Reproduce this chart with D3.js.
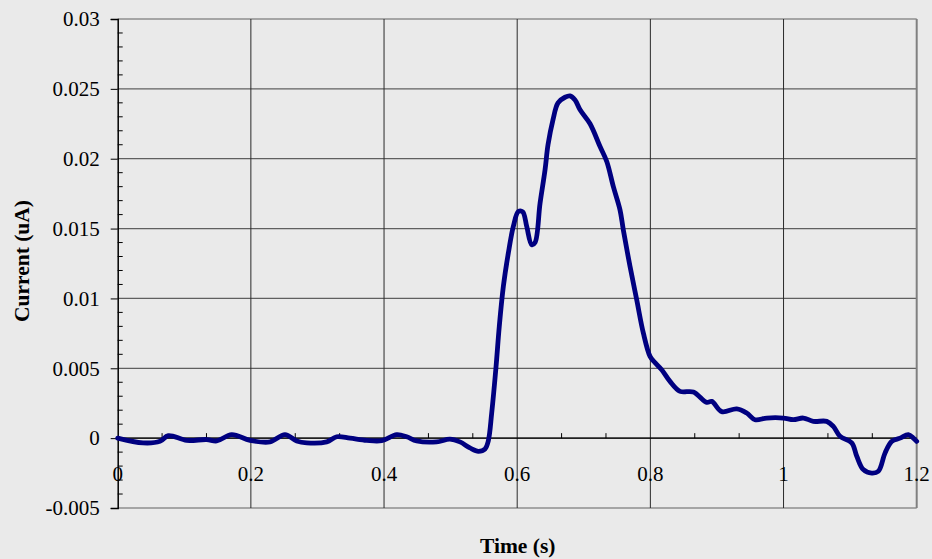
<!DOCTYPE html>
<html>
<head>
<meta charset="utf-8">
<script src="https://cdn.jsdelivr.net/npm/d3@7"></script>
<style>
  html, body { margin: 0; padding: 0; background: #EAEAEA; }
  svg { display: block; }
</style>
</head>
<body>
<svg id="chart" width="932" height="559"></svg>
<script>
// ---- data ----
const timeValues = [0.000, 0.038, 0.0635, 0.076, 0.1036, 0.1337, 0.1487, 0.1712, 0.1987, 0.2287,
  0.2512, 0.2688, 0.2839, 0.3139, 0.3289, 0.3489, 0.374, 0.3965, 0.419, 0.434,
  0.449, 0.479, 0.499, 0.514, 0.529, 0.5416, 0.5517, 0.5566, 0.5617, 0.5682,
  0.5731, 0.5792, 0.5867, 0.5942, 0.6017, 0.6083, 0.6143, 0.6218, 0.6268, 0.6343,
  0.6418, 0.6463, 0.6538, 0.6613, 0.6718, 0.6793, 0.6869, 0.6944, 0.7094, 0.7244,
  0.7345, 0.7444, 0.7544, 0.7594, 0.7694, 0.7795, 0.7894, 0.7995, 0.807, 0.817,
  0.8295, 0.8445, 0.8645, 0.8847, 0.8922, 0.9072, 0.9297, 0.9447, 0.9572, 0.9748,
  0.9997, 1.0147, 1.0298, 1.0448, 1.0649, 1.0748, 1.0849, 1.1024, 1.11, 1.1198,
  1.1325, 1.1424, 1.1525, 1.1625, 1.175, 1.1875, 1.195, 1.2];
const currentValues = [0, -0.00034, -0.00023, 0.00018, -0.00016, -0.0001, -0.0002, 0.00025, -0.00016, -0.00027,
  0.00025, -0.0002, -0.00034, -0.00027, 0.0001, 0, -0.00016, -0.00018, 0.00025, 0.0001,
  -0.0002, -0.00027, -0.00007, -0.00027, -0.0007, -0.00094, -0.00077, -0.0002, 0.0018, 0.0051,
  0.008, 0.01086, 0.01325, 0.01515, 0.01622, 0.0162, 0.01515, 0.01384, 0.014, 0.0168,
  0.0192, 0.021, 0.0228, 0.024, 0.0244, 0.0245, 0.0242, 0.0235, 0.0225, 0.02087,
  0.0198, 0.018, 0.01634, 0.0149, 0.0123, 0.0099, 0.00753, 0.00585, 0.0054, 0.0049,
  0.00406, 0.00335, 0.0033, 0.00256, 0.00263, 0.0019, 0.0021, 0.0018, 0.00132, 0.00144,
  0.00144, 0.00132, 0.00144, 0.0012, 0.0012, 0.00084, 0.00013, -0.00034, -0.0013, -0.00225,
  -0.0025, -0.00237, -0.00106, -0.00023, 0, 0.00025, 0, -0.00023];
const xTickValues = [0, 0.2, 0.4, 0.6, 0.8, 1, 1.2];
const xTickLabels = ["0", "0.2", "0.4", "0.6", "0.8", "1", "1.2"];
const yTickValues = [-0.005, 0, 0.005, 0.01, 0.015, 0.02, 0.025, 0.03];
const yTickLabels = ["-0.005", "0", "0.005", "0.01", "0.015", "0.02", "0.025", "0.03"];
const xTitle = "Time (s)";
const yTitle = "Current (uA)";

// ---- layout ----
const svg = d3.select("#chart");
const plotLeft = 117.7, plotRight = 916.7, plotTop = 19, plotBottom = 508;
const x = d3.scaleLinear().domain([0, 1.2]).range([plotLeft, plotRight]);
const y = d3.scaleLinear().domain([-0.005, 0.03]).range([plotBottom, plotTop]);
const serif = "'Liberation Serif', 'Times New Roman', serif";

svg.append("rect").attr("width", 932).attr("height", 559).attr("fill", "#EAEAEA");

// horizontal gridlines
svg.append("g").selectAll("line").data(yTickValues).join("line")
  .attr("x1", plotLeft).attr("x2", plotRight)
  .attr("y1", d => y(d)).attr("y2", d => y(d))
  .attr("stroke", "#606060").attr("stroke-width", 1.2);

// vertical gridlines
svg.append("g").selectAll("line").data(xTickValues.filter(d => d > 0)).join("line")
  .attr("x1", d => x(d)).attr("x2", d => x(d))
  .attr("y1", plotTop).attr("y2", plotBottom)
  .attr("stroke", d => d === 1.2 ? "#808080" : "#2a2a2a").attr("stroke-width", d => d === 1.2 ? 2 : 1);

// y axis with minor ticks
const yAxis = d3.axisLeft(y).tickValues(yTickValues).tickFormat((d, i) => yTickLabels[i])
  .tickSize(7).tickPadding(11);
const gy = svg.append("g").attr("transform", `translate(${plotLeft},0)`).call(yAxis);
gy.select(".domain").attr("stroke", "#000").attr("stroke-width", 1.5);
gy.selectAll(".tick line").attr("stroke", "#000");
gy.selectAll("text").attr("font-family", serif).attr("font-size", 21).attr("fill", "#000");
const yMinor = d3.range(-0.005, 0.03001, 0.001).filter(v => Math.abs(Math.round(v / 0.005) * 0.005 - v) > 1e-6);
svg.append("g").selectAll("line").data(yMinor).join("line")
  .attr("x1", plotLeft).attr("x2", plotLeft + 5)
  .attr("y1", d => y(d)).attr("y2", d => y(d))
  .attr("stroke", "#000").attr("stroke-width", 1);

// x axis at zero
svg.append("line").attr("x1", plotLeft).attr("x2", plotRight)
  .attr("y1", y(0)).attr("y2", y(0)).attr("stroke", "#000").attr("stroke-width", 1.2);
const xMinor = d3.range(0, 18).map(i => i * 0.2 / 3).filter((v, i) => i % 3 !== 0);
svg.append("g").selectAll("line").data(xMinor).join("line")
  .attr("x1", d => x(d)).attr("x2", d => x(d))
  .attr("y1", y(0)).attr("y2", y(0) - 5)
  .attr("stroke", "#000").attr("stroke-width", 1);

// data line
const line = d3.line().x((d, i) => x(timeValues[i])).y(d => y(d)).curve(d3.curveCatmullRom.alpha(0.5));
svg.append("path").datum(currentValues)
  .attr("d", line)
  .attr("fill", "none").attr("stroke", "#000080").attr("stroke-width", 4.8)
  .attr("stroke-linejoin", "round").attr("stroke-linecap", "round");

// x tick labels (on top of line, like reference)
svg.append("g").selectAll("text").data(xTickValues).join("text")
  .attr("x", d => x(d)).attr("y", 480.5)
  .attr("text-anchor", "middle")
  .attr("font-family", serif).attr("font-size", 21).attr("fill", "#000")
  .text((d, i) => xTickLabels[i]);

// titles
svg.append("text").attr("x", 517.7).attr("y", 553)
  .attr("text-anchor", "middle").attr("font-family", serif).attr("font-weight", "bold")
  .attr("font-size", 21.5).text(xTitle);
svg.append("text").attr("transform", "translate(28.5,261) rotate(-90)")
  .attr("text-anchor", "middle").attr("font-family", serif).attr("font-weight", "bold")
  .attr("font-size", 21.5).text(yTitle);
</script>
</body>
</html>
